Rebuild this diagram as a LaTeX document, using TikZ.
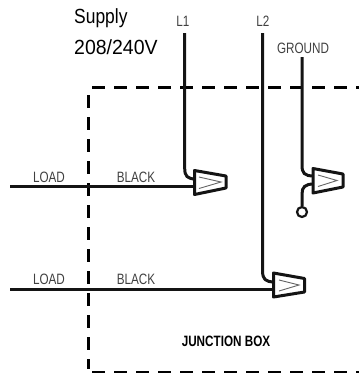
\documentclass[tikz,border=0pt]{standalone}
\usepackage{fontspec}
\setmainfont{Liberation Sans}
\newfontfamily\narrowfont[FakeStretch=0.78]{Liberation Sans}
\newfontfamily\titlefont[FakeStretch=0.95]{Liberation Sans}
\newfontfamily\supfont[FakeStretch=0.85]{Liberation Sans}
\tikzset{
  x=1pt,y=-1pt,
  wire/.style={line width=3pt,line join=round,black!92},
  nut/.style={line width=3pt,line join=round,draw=black!92,fill=white},
  nutmark/.style={line width=0.9pt,draw=black!60},
  boxline/.style={line width=3pt,dash pattern=on 13pt off 9pt},
  lab/.style={font=\narrowfont\fontsize{15}{17}\selectfont,text=black!75,inner sep=0pt},
  title/.style={font=\titlefont\fontsize{20.5}{23}\selectfont,inner sep=0pt,anchor=west},
}
\begin{document}
\begin{tikzpicture}
\useasboundingbox (0,0) rectangle (359,373);
% junction box
\coordinate (tl) at (92,87);
\coordinate (tr) at (359,87);
\coordinate (vt) at (88,95);
\coordinate (vb) at (88,369);
\coordinate (bl) at (92,372);
\coordinate (br) at (359,372);
\draw[boxline] (tl) -- (tr);
\draw[boxline] (vt) -- (vb);
\draw[line width=1.6pt,dash pattern=on 13pt off 9pt] (bl) -- (br);
% wire free ends
\coordinate (l1top) at (184.7,33);
\coordinate (l2top) at (262.6,33);
\coordinate (gtop) at (302,57);
\coordinate (load1) at (10,186.6);
\coordinate (load2) at (10,289.5);
% wires
\draw[wire] (l1top) -- (184.7,168) .. controls (184.7,176) and (187,179) .. (196,179);
\draw[wire] (l2top) -- (262.6,271) .. controls (262.6,279) and (265,282) .. (275,282);
\draw[wire] (gtop) -- (302,165) .. controls (302,173) and (304,176) .. (314,176);
\draw[wire] (load1) -- (196,186.6);
\draw[wire] (load2) -- (275,289.5);
\node[circle,draw=black!92,line width=2.2pt,fill=white,minimum size=10pt,inner sep=0pt] (gnd) at (302,212) {};
\draw[wire] (gnd.north) -- (302,194) .. controls (302,187) and (305,184) .. (314,184);
% wire nuts
\draw[nut] (194.5,170.5) -- (226,176) -- (226,188) -- (194.5,194.5) -- cycle;
\draw[nutmark] (199,177) -- (221,182) -- (199,188.5);
\draw[nut] (313,168.5) -- (343,174) -- (343,187) -- (313,193) -- cycle;
\draw[nutmark] (318,175) -- (337,180.5) -- (318,186.5);
\draw[nut] (273.5,273) -- (304.5,278.5) -- (304.5,292) -- (273.5,297) -- cycle;
\draw[nutmark] (279,280) -- (299,285) -- (279,291);
% labels
\node[title,font=\supfont\fontsize{20.5}{23}\selectfont] (sup) at (74,18) {Supply};
\node[title] (volt) at (74,47) {208/240V};
\node[lab] (tl1) at (183,21) {L1};
\node[lab] (tl2) at (263,21) {L2};
\node[lab] (tg) at (303,48) {GROUND};
\node[lab] (la) at (49,177) {LOAD};
\node[lab] (ba) at (136,177) {BLACK};
\node[lab] (lb) at (49,279) {LOAD};
\node[lab] (bb) at (136,279) {BLACK};
\node[lab,text=black,font=\narrowfont\bfseries\fontsize{15}{17}\selectfont] (jb) at (226,341) {JUNCTION BOX};
\end{tikzpicture}
\end{document}
